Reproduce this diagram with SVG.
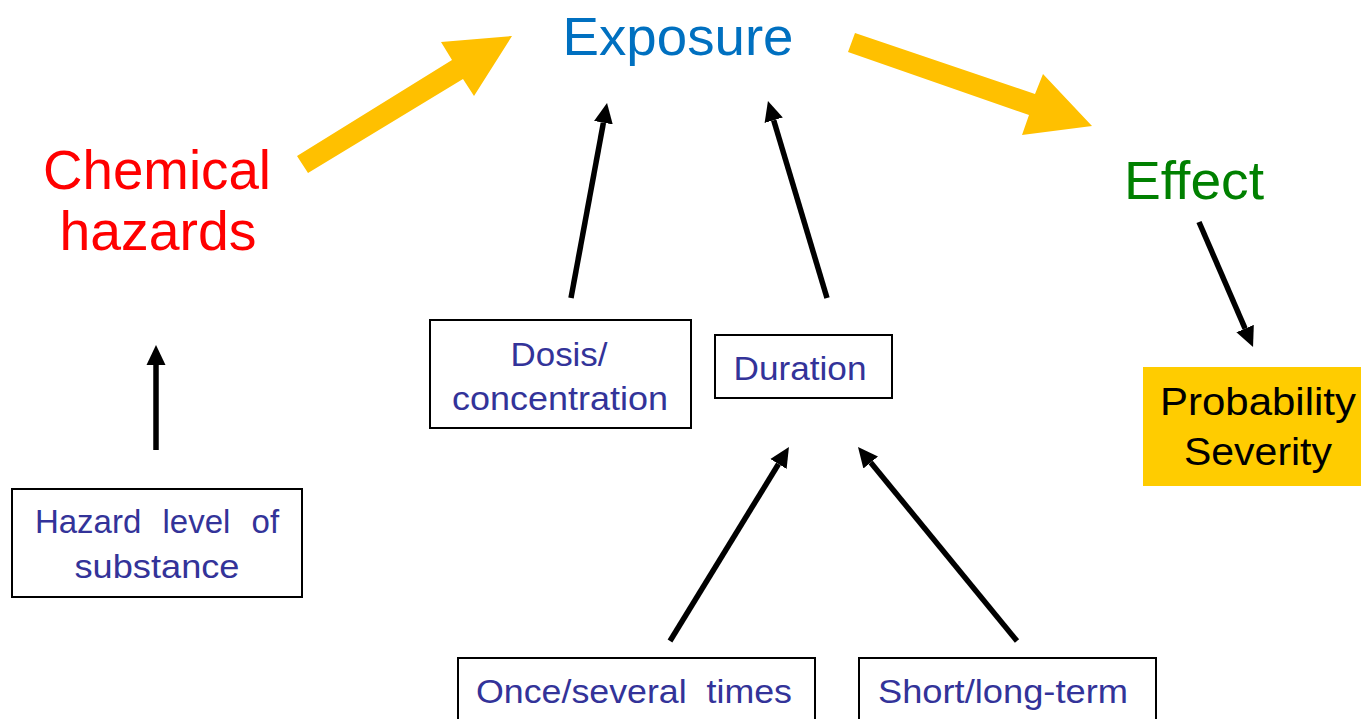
<svg xmlns="http://www.w3.org/2000/svg" width="1361" height="719" viewBox="0 0 1361 719">
<style>
text{font-family:"Liberation Sans",Arial,sans-serif;text-anchor:middle}
.box{fill:#fff;stroke:#000;stroke-width:2}
.bt{fill:#333399;font-size:33px}
.conn{stroke:#000;stroke-width:5.5;fill:none;marker-end:url(#ah)}
.big{fill:#FFC000}
</style>
<defs>
<marker id="ah" markerUnits="userSpaceOnUse" markerWidth="20" markerHeight="20" viewBox="0 0 20 20" refX="0" refY="10" orient="auto">
<path d="M0,0.5 L20,10 L0,19.5 z" fill="#000"/>
</marker>
</defs>
<rect width="1361" height="719" fill="#fff"/>
<g id="connectors">
<polygon class="big" points="297,156 452,60 441,42 512,36 474,96 463,79 308,173"/>
<polygon class="big" points="855,33 1035,94 1043,74 1092,126 1022,135 1029,115 848,52"/>
<line class="conn" x1="156" y1="450" x2="156" y2="365"/>
<line class="conn" x1="571" y1="298" x2="603.4" y2="122.7"/>
<line class="conn" x1="827" y1="298" x2="773.7" y2="120.2"/>
<line class="conn" x1="1199" y1="222" x2="1245.1" y2="328.6"/>
<line class="conn" x1="670" y1="641" x2="778.5" y2="464"/>
<line class="conn" x1="1017" y1="641" x2="870.7" y2="462.5"/>
</g>
<g id="exposure">
<text x="678" y="55" font-size="53" fill="#0070C0" textLength="231" lengthAdjust="spacingAndGlyphs">Exposure</text>
</g>
<g id="chemical-hazards">
<text x="157" y="189" font-size="55" fill="#FF0000" textLength="228" lengthAdjust="spacingAndGlyphs">Chemical</text>
<text x="158" y="250" font-size="55" fill="#FF0000" textLength="197" lengthAdjust="spacingAndGlyphs">hazards</text>
</g>
<g id="effect">
<text x="1194" y="199" font-size="53" fill="#008000" textLength="140" lengthAdjust="spacingAndGlyphs">Effect</text>
</g>
<g id="probability-severity">
<rect x="1143" y="367" width="220" height="119" fill="#FFCC00"/>
<text x="1258" y="415" font-size="38" fill="#000" textLength="196" lengthAdjust="spacingAndGlyphs">Probability</text>
<text x="1258" y="465" font-size="38" fill="#000" textLength="148" lengthAdjust="spacingAndGlyphs">Severity</text>
</g>
<g id="hazard-level">
<rect class="box" x="12" y="489" width="290" height="108"/>
<text class="bt" x="157" y="533" word-spacing="12">Hazard level of</text>
<text class="bt" x="157" y="578" textLength="165" lengthAdjust="spacingAndGlyphs">substance</text>
</g>
<g id="dosis">
<rect class="box" x="430" y="320" width="261" height="108"/>
<text class="bt" x="559" y="366" textLength="97" lengthAdjust="spacingAndGlyphs">Dosis/</text>
<text class="bt" x="560" y="410" textLength="216" lengthAdjust="spacingAndGlyphs">concentration</text>
</g>
<g id="duration">
<rect class="box" x="715" y="335" width="177" height="63"/>
<text class="bt" x="800" y="380" textLength="133" lengthAdjust="spacingAndGlyphs">Duration</text>
</g>
<g id="once-several">
<rect class="box" x="458" y="658" width="357" height="70"/>
<text class="bt" x="634" y="703" xml:space="preserve" textLength="316" lengthAdjust="spacingAndGlyphs">Once/several  times</text>
</g>
<g id="short-long">
<rect class="box" x="859" y="658" width="297" height="70"/>
<text class="bt" x="1003" y="703" textLength="250" lengthAdjust="spacingAndGlyphs">Short/long-term</text>
</g>
</svg>
